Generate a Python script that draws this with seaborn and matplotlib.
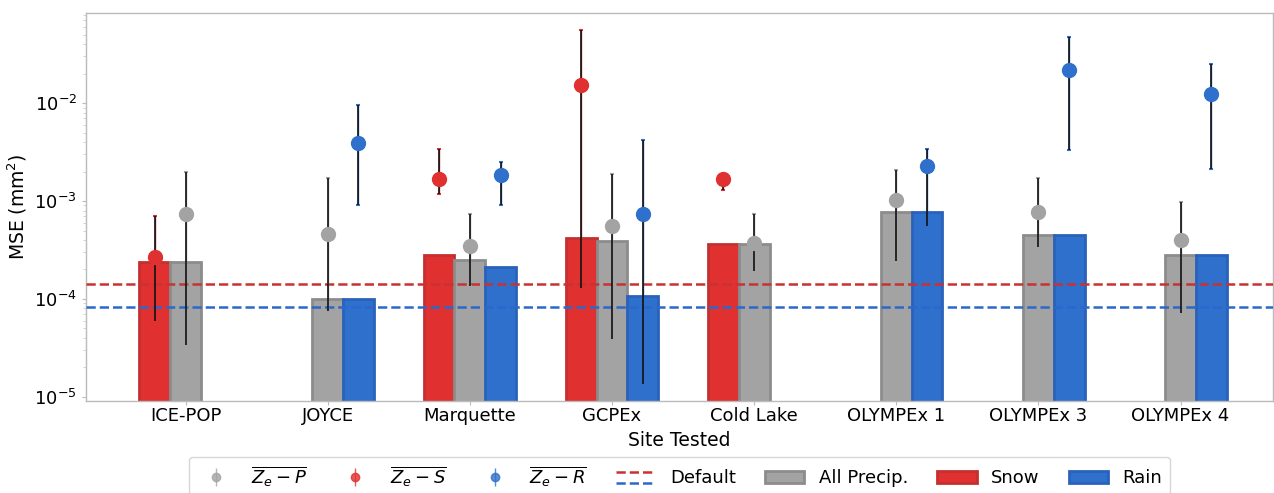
import numpy as np
import pandas as pd
import matplotlib
matplotlib.use("Agg")
import matplotlib.pyplot as plt
import seaborn as sns
from matplotlib.lines import Line2D
from matplotlib.patches import Patch
from matplotlib.legend_handler import HandlerBase

sites = ["ICE-POP", "JOYCE", "Marquette", "GCPEx", "Cold Lake",
         "OLYMPEx 1", "OLYMPEx 3", "OLYMPEx 4"]

# bar values (MSE, mm^2); NaN = not available
bar_snow = [2.4e-4, np.nan, 2.82e-4, 4.23e-4, 3.66e-4, np.nan, np.nan, np.nan]
bar_all = [2.4e-4, 1.0e-4, 2.5e-4, 3.94e-4, 3.66e-4, 7.8e-4, 4.53e-4, 2.82e-4]
bar_rain = [np.nan, 1.0e-4, 2.13e-4, 1.07e-4, np.nan, 7.8e-4, 4.53e-4, 2.82e-4]

# point estimates with ranges
pt_all = [7.4e-4, 4.6e-4, 3.5e-4, 5.5e-4, 3.75e-4, 1.03e-3, 7.8e-4, 4.0e-4]
pt_all_lo = [3.4e-5, 7.5e-5, 1.37e-4, 3.9e-5, 1.94e-4, 2.45e-4, 3.4e-4, 7.2e-5]
pt_all_hi = [2.0e-3, 1.7e-3, 7.3e-4, 1.9e-3, 7.3e-4, 2.05e-3, 1.7e-3, 9.8e-4]

pt_snow = [2.7e-4, np.nan, 1.66e-3, 1.53e-2, 1.66e-3, np.nan, np.nan, np.nan]
pt_snow_lo = [6.0e-5, np.nan, 1.17e-3, 1.3e-4, 1.3e-3, np.nan, np.nan, np.nan]
pt_snow_hi = [7.0e-4, np.nan, 3.37e-3, 5.6e-2, 1.75e-3, np.nan, np.nan, np.nan]

pt_rain = [np.nan, 3.9e-3, 1.83e-3, 7.4e-4, np.nan, 2.3e-3, 2.18e-2, 1.24e-2]
pt_rain_lo = [np.nan, 9.2e-4, 9.2e-4, 1.36e-5, np.nan, 5.5e-4, 3.3e-3, 2.1e-3]
pt_rain_hi = [np.nan, 9.5e-3, 2.5e-3, 4.2e-3, np.nan, 3.4e-3, 4.75e-2, 2.5e-2]

default_snow = 1.43e-4
default_rain = 8.3e-5

RED, GRAY, BLUE = "#e03030", "#a3a3a3", "#2f70cc"
RED_E, GRAY_E, BLUE_E = "#c43030", "#8c8c8c", "#2a62bb"

sns.set_style("white")
plt.rcParams["font.family"] = ["DejaVu Sans"]
plt.rcParams["text.color"] = "black"
plt.rcParams["axes.labelcolor"] = "black"

df = pd.DataFrame({
    "site": sites * 3,
    "kind": ["Snow"] * 8 + ["All Precip."] * 8 + ["Rain"] * 8,
    "mse": bar_snow + bar_all + bar_rain,
})

fig = plt.figure(figsize=(12.74, 4.93), dpi=100)
ax = fig.add_axes([86 / 1274, 1 - 400.5 / 493, (1273 - 86) / 1274, (400.5 - 13) / 493])

hue_order = ["Snow", "All Precip.", "Rain"]
sns.barplot(data=df, x="site", y="mse", hue="kind", hue_order=hue_order,
            palette=[RED, GRAY, BLUE], order=sites, width=0.65, dodge=True,
            errorbar=None, ax=ax, legend=False, saturation=1)
kind_edges = {"Snow": RED_E, "All Precip.": GRAY_E, "Rain": BLUE_E}
for cont, k in zip(ax.containers, hue_order):
    for p in cont:
        p.set_edgecolor(kind_edges[k])
        p.set_linewidth(2)

ax.set_yscale("log")

off = 0.65 / 3
xs = np.arange(len(sites))
for vals, lo, hi, col, dx in [
    (pt_all, pt_all_lo, pt_all_hi, GRAY, 0.0),
    (pt_snow, pt_snow_lo, pt_snow_hi, RED, -off),
    (pt_rain, pt_rain_lo, pt_rain_hi, BLUE, off),
]:
    v = np.array(vals, float)
    l = np.array(lo, float)
    h = np.array(hi, float)
    m = ~np.isnan(v)
    x = xs[m] + dx
    eb = ax.errorbar(x, v[m], yerr=[v[m] - l[m], h[m] - v[m]], fmt="none",
                     ecolor=col, elinewidth=1.0,
                     capsize=1.2, capthick=1.5, zorder=4)
    for c in eb[1]:
        c.set_color(col)
    ax.vlines(x, l[m], h[m], color="#111111", lw=1.2, zorder=4.5)
    ax.plot(x, v[m], "o", color=col, ms=10, zorder=6, ls="none")

ax.axhline(default_snow, color="#c83232", ls="--", lw=1.8, zorder=3)
ax.axhline(default_rain, color="#2a68cc", ls="--", lw=1.8, zorder=3)

ax.set_xlim(-0.70, 7.65)
ax.set_ylim(9.2e-6, 8.3e-2)
ax.set_xlabel("Site Tested", fontsize=13.5)
ax.set_ylabel("MSE (mm$^2$)", fontsize=13.5)
ax.tick_params(axis="x", labelsize=13, length=3, color="#bbbbbb", pad=2,
               labelcolor="black")
ax.tick_params(axis="y", which="major", labelsize=13, length=3, color="#bbbbbb",
               labelcolor="black")
ax.tick_params(axis="y", which="minor", length=2, color="#cccccc")
ax.tick_params(bottom=True, left=True, which="both")
for s in ax.spines.values():
    s.set_color("#bbbbbb")
    s.set_linewidth(1.0)


class HandlerDefault(HandlerBase):
    def create_artists(self, legend, orig_handle, xdescent, ydescent,
                       width, height, fontsize, trans):
        l1 = Line2D([0, width], [height * 0.85, height * 0.85],
                    color="#c83232", ls="--", lw=1.8, transform=trans)
        l2 = Line2D([0, width], [height * 0.05, height * 0.05],
                    color="#2a68cc", ls="--", lw=1.8, transform=trans)
        return [l1, l2]


def eb_handle(col):
    return ax.errorbar([], [], yerr=[[], []], fmt="o", color=col, ms=6,
                       ecolor=col, elinewidth=1.0, alpha=0.8)


h_all = eb_handle(GRAY)
h_snow = eb_handle(RED)
h_rain = eb_handle(BLUE)
h_def = object()
handles = [h_all, h_snow, h_rain, h_def,
           Patch(facecolor=GRAY, edgecolor=GRAY_E, lw=2),
           Patch(facecolor=RED, edgecolor=RED_E, lw=2),
           Patch(facecolor=BLUE, edgecolor=BLUE_E, lw=2)]
labels = [r"$\overline{Z_e - P}$", r"$\overline{Z_e - S}$", r"$\overline{Z_e - R}$",
          "Default", "All Precip.", "Snow", "Rain"]
ax.legend(handles, labels, loc="upper center", bbox_to_anchor=(0.5, -0.122),
          ncol=7, fontsize=13, frameon=True, handler_map={h_def: HandlerDefault()},
          columnspacing=1.6, handlelength=2.2)

fig.savefig("out.png", dpi=100)
